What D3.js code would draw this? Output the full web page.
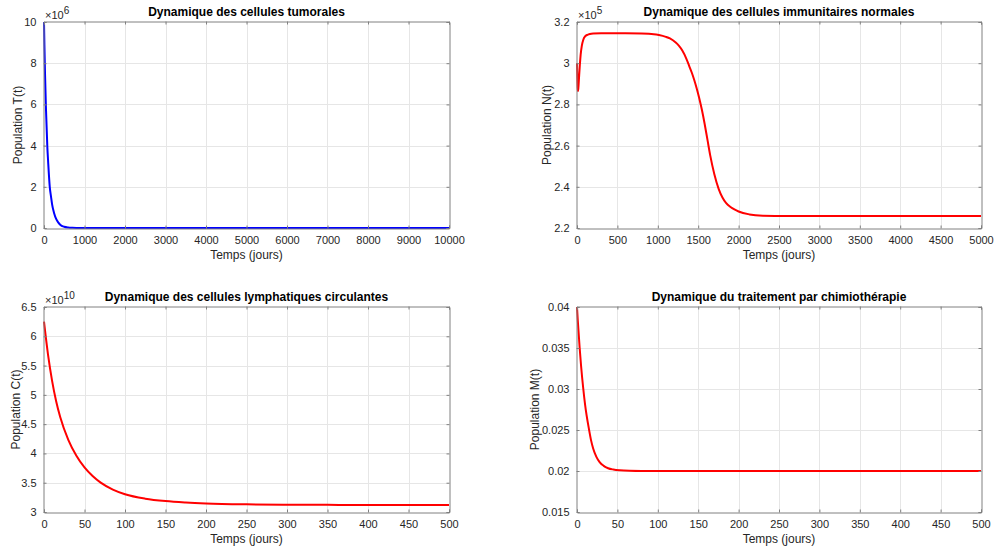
<!DOCTYPE html>
<html>
<head>
<meta charset="utf-8">
<script src="https://cdn.jsdelivr.net/npm/d3@7"></script>
<style>
  html, body { margin: 0; padding: 0; background: #ffffff; }
  svg { display: block; font-family: "Liberation Sans", Arial, sans-serif; }
</style>
</head>
<body>
<svg id="chart" width="995" height="554"></svg>
<script>
// ---------- Data ----------
// Panel 1: tumour cells T(t), values in units of 1e6
const tT   = [0, 10, 25, 50, 83, 100, 142, 175, 200, 250, 300, 350, 400, 500, 600, 700, 800, 1000, 1500, 2000, 3000, 5000, 7500, 10000];
const valT = [10, 8.9, 7.5, 5.7, 3.9, 3.3, 2.0, 1.5, 1.15, 0.72, 0.44, 0.27, 0.16, 0.06, 0.022, 0.008, 0.003, 0.0004, 0, 0, 0, 0, 0, 0];

// Panel 2: normal immune cells N(t), values in units of 1e5
const tN   = [0, 4, 8, 12, 17, 25, 35, 45, 60, 78, 100, 130, 160, 200, 300, 600, 800, 950, 1014, 1100, 1150, 1222, 1260, 1305, 1350, 1388, 1420, 1450, 1480, 1510, 1545, 1580, 1616, 1650, 1699, 1753, 1800, 1844, 1900, 1948, 2000, 2135, 2300, 2600, 5000];
const valN = [3.0, 2.93, 2.88, 2.865, 2.88, 2.93, 2.99, 3.04, 3.085, 3.114, 3.13, 3.138, 3.142, 3.144, 3.145, 3.145, 3.144, 3.141, 3.137, 3.128, 3.12, 3.10, 3.085, 3.06, 3.025, 2.987, 2.955, 2.92, 2.88, 2.835, 2.775, 2.705, 2.625, 2.55, 2.462, 2.39, 2.348, 2.322, 2.302, 2.29, 2.28, 2.266, 2.26, 2.258, 2.258];

// Panel 3: circulating lymphocytes C(t), values in units of 1e10
const tC   = [0, 5, 10, 15, 20, 30, 40, 50, 60, 70, 85, 100, 125, 150, 175, 200, 250, 300, 350, 400, 500];
const valC = [6.25, 5.683, 5.239, 4.89, 4.621, 4.232, 3.96, 3.761, 3.614, 3.501, 3.382, 3.303, 3.228, 3.187, 3.163, 3.147, 3.131, 3.1245, 3.122, 3.12, 3.12];

// Panel 4: chemotherapy M(t)
const tM   = [0, 1, 3.3, 5, 7.8, 10, 15, 17.5, 20, 24, 28, 33, 38.5, 45, 53, 65, 80, 100, 200, 300, 400, 500];
const valM = [0.04, 0.03833, 0.035, 0.03287, 0.03, 0.0281, 0.025, 0.0237, 0.02274, 0.02173, 0.02109, 0.02063, 0.02034, 0.02018, 0.02008, 0.02002, 0.02, 0.02, 0.02, 0.02, 0.02, 0.02];

// Tick values
const xTicksT = [0, 1000, 2000, 3000, 4000, 5000, 6000, 7000, 8000, 9000, 10000];
const yTicksT = [0, 2, 4, 6, 8, 10];
const xTicksN = [0, 500, 1000, 1500, 2000, 2500, 3000, 3500, 4000, 4500, 5000];
const yTicksN = [2.2, 2.4, 2.6, 2.8, 3, 3.2];
const xTicksC = [0, 50, 100, 150, 200, 250, 300, 350, 400, 450, 500];
const yTicksC = [3, 3.5, 4, 4.5, 5, 5.5, 6, 6.5];
const xTicksM = [0, 50, 100, 150, 200, 250, 300, 350, 400, 450, 500];
const yTicksM = [0.015, 0.02, 0.025, 0.03, 0.035, 0.04];

// Texts
const titles  = ["Dynamique des cellules tumorales", "Dynamique des cellules immunitaires normales",
                 "Dynamique des cellules lymphatiques circulantes", "Dynamique du traitement par chimiothérapie"];
const yLabels = ["Population T(t)", "Population N(t)", "Population C(t)", "Population M(t)"];
const xLabel  = "Temps (jours)";
const exponents = ["6", "5", "10", null];

// ---------- Panels ----------
const panels = [
  { t: tT, v: valT, xd: [0, 10000], yd: [0, 10], xt: xTicksT, yt: yTicksT, color: "#0000ff",
    box: { x0: 44, x1: 449, y0: 22, y1: 228 }, ylOff: 26 },
  { t: tN, v: valN, xd: [0, 5000], yd: [2.2, 3.2], xt: xTicksN, yt: yTicksN, color: "#ff0000",
    box: { x0: 577, x1: 981, y0: 22, y1: 228 }, ylOff: 30 },
  { t: tC, v: valC, xd: [0, 500], yd: [3, 6.5], xt: xTicksC, yt: yTicksC, color: "#ff0000",
    box: { x0: 44, x1: 449, y0: 307, y1: 512 }, ylOff: 28 },
  { t: tM, v: valM, xd: [0, 500], yd: [0.015, 0.04], xt: xTicksM, yt: yTicksM, color: "#ff0000",
    box: { x0: 577, x1: 981, y0: 307, y1: 512 }, ylOff: 42 }
];

const svg = d3.select("#chart");
const textColor = "#262626";
const axisColor = "#808080";
const gridColor = "#e6e6e6";

panels.forEach((p, i) => {
  const b = p.box;
  const x = d3.scaleLinear().domain(p.xd).range([b.x0, b.x1]);
  const y = d3.scaleLinear().domain(p.yd).range([b.y1, b.y0]);
  const g = svg.append("g");

  // grid
  g.append("g").selectAll("line").data(p.xt.slice(1, -1)).join("line")
    .attr("x1", d => Math.round(x(d)) + 0.5).attr("x2", d => Math.round(x(d)) + 0.5)
    .attr("y1", b.y0).attr("y2", b.y1)
    .attr("stroke", gridColor).attr("stroke-width", 1);
  g.append("g").selectAll("line").data(p.yt.slice(1, -1)).join("line")
    .attr("y1", d => Math.round(y(d)) + 0.5).attr("y2", d => Math.round(y(d)) + 0.5)
    .attr("x1", b.x0).attr("x2", b.x1)
    .attr("stroke", gridColor).attr("stroke-width", 1);

  // curve
  const clipId = "clip" + i;
  svg.append("defs").append("clipPath").attr("id", clipId)
    .append("rect").attr("x", b.x0 - 1).attr("y", b.y0 - 1)
    .attr("width", b.x1 - b.x0 + 2).attr("height", b.y1 - b.y0 + 2);
  const line = d3.line().x(d => x(d[0])).y(d => y(d[1])).curve(d3.curveMonotoneX);
  g.append("path").datum(p.t.map((t, k) => [t, p.v[k]]))
    .attr("clip-path", `url(#${clipId})`)
    .attr("d", line).attr("fill", "none")
    .attr("stroke", p.color).attr("stroke-width", 2).attr("stroke-linejoin", "round");

  // axes (bottom / left with labels, top / right mirror ticks)
  const fmtY = d => String(+d.toFixed(4));
  const xAxis = d3.axisBottom(x).tickValues(p.xt).tickSize(-3).tickPadding(8).tickFormat(d => String(d));
  const yAxis = d3.axisLeft(y).tickValues(p.yt).tickSize(-3).tickPadding(7).tickFormat(fmtY);
  const xTop = d3.axisTop(x).tickValues(p.xt).tickSize(-3).tickFormat("");
  const yRight = d3.axisRight(y).tickValues(p.yt).tickSize(-3).tickFormat("");

  [[xAxis, `translate(0,${b.y1 + 0.5})`], [yAxis, `translate(${b.x0 - 0.5},0)`],
   [xTop, `translate(0,${b.y0 - 0.5})`], [yRight, `translate(${b.x1 + 0.5},0)`]].forEach(([ax, tr]) => {
    const a = g.append("g").attr("transform", tr).call(ax);
    a.select(".domain").attr("stroke", axisColor).attr("stroke-width", 1);
    a.selectAll(".tick line").attr("stroke", axisColor);
    a.selectAll("text").attr("fill", textColor).style("font-size", "11px")
      .style("font-family", "'Liberation Sans', Arial, sans-serif");
  });

  // title
  g.append("text").attr("x", (b.x0 + b.x1) / 2).attr("y", b.y0 - 6)
    .attr("text-anchor", "middle").attr("fill", "#000")
    .style("font-size", "12px").style("font-weight", "bold").text(titles[i]);

  // x label
  g.append("text").attr("x", (b.x0 + b.x1) / 2).attr("y", b.y1 + 31)
    .attr("text-anchor", "middle").attr("fill", textColor)
    .style("font-size", "12px").text(xLabel);

  // y label
  const cx = b.x0 - p.ylOff, cy = (b.y0 + b.y1) / 2;
  g.append("text").attr("transform", `translate(${cx},${cy}) rotate(-90)`)
    .attr("text-anchor", "middle").attr("dy", "0.35em").attr("fill", textColor)
    .style("font-size", "12px").text(yLabels[i]);

  // exponent
  if (exponents[i]) {
    const e = g.append("text").attr("x", b.x0 + 1).attr("y", b.y0 - 3)
      .attr("fill", textColor).style("font-size", "11px");
    e.append("tspan").text("\u00d710");
    e.append("tspan").attr("dy", "-5").style("font-size", "10px").text(exponents[i]);
  }
});
</script>
</body>
</html>
